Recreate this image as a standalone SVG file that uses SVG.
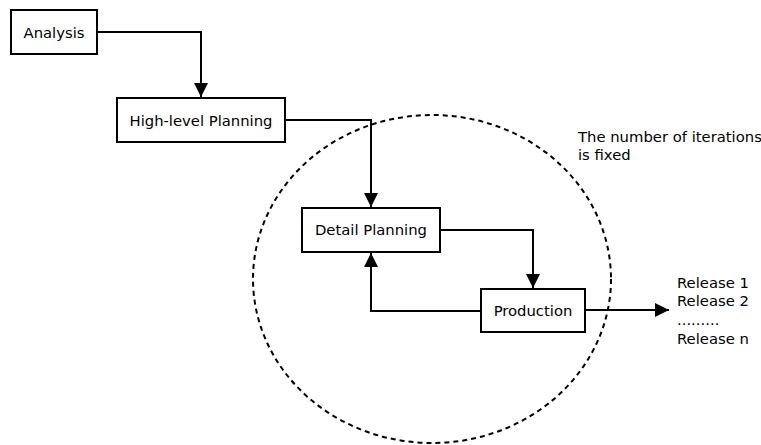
<svg xmlns="http://www.w3.org/2000/svg" width="761" height="445" viewBox="0 0 761 445">
<style>
.box{fill:#fff;stroke:#000;stroke-width:2}
.t{font-family:"DejaVu Sans",sans-serif;font-size:14.8px;fill:#000}
.c{text-anchor:middle;dominant-baseline:central}
.ln{fill:none;stroke:#000;stroke-width:2}
</style>
<defs>
<marker id="ah" markerWidth="14" markerHeight="14" refX="14" refY="7" orient="auto" markerUnits="userSpaceOnUse">
<path d="M0,0 L14,7 L0,14 Z" fill="#000"/>
</marker>
</defs>
<ellipse cx="432" cy="279" rx="179" ry="164" fill="none" stroke="#000" stroke-width="2" stroke-dasharray="5,4"/>
<g id="connectors">
<path class="ln" d="M97,32 H201 V97" marker-end="url(#ah)"/>
<path class="ln" d="M285,120 H371 V207" marker-end="url(#ah)"/>
<path class="ln" d="M440,230 H533 V288" marker-end="url(#ah)"/>
<path class="ln" d="M481,311 H371 V253" marker-end="url(#ah)"/>
<path class="ln" d="M585,310 H669" marker-end="url(#ah)"/>
</g>
<g id="analysis"><rect class="box" x="11" y="10" width="86" height="44"/><text class="t c" x="54" y="32">Analysis</text></g>
<g id="high-level"><rect class="box" x="117" y="98" width="168" height="44"/><text class="t c" x="201" y="120">High-level Planning</text></g>
<g id="detail"><rect class="box" x="302" y="208" width="138" height="44"/><text class="t c" x="371" y="229">Detail Planning</text></g>
<g id="production"><rect class="box" x="481" y="289" width="104" height="43"/><text class="t c" x="533" y="310">Production</text></g>
<g id="note"><text class="t" x="578" y="142">The number of iterations</text><text class="t" x="578" y="160">is fixed</text></g>
<g id="releases">
<text class="t" x="677" y="288">Release 1</text>
<text class="t" x="677" y="306">Release 2</text>
<text class="t" x="677" y="325">.........</text>
<text class="t" x="677" y="344">Release n</text>
</g>
</svg>
